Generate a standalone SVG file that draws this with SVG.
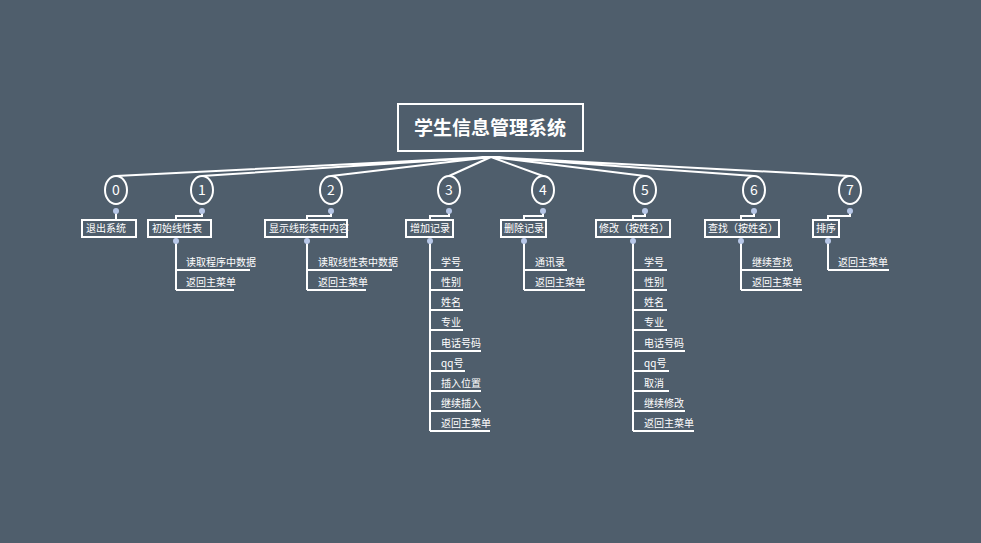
<svg xmlns="http://www.w3.org/2000/svg" width="981" height="543" viewBox="0 0 981 543">
<style>
.c{fill:none;stroke:#fff;stroke-width:2}
.b{fill:#4f5e6c;stroke:#fff;stroke-width:2}
.d{fill:#b6c6e6;stroke:none}
text{font-family:"Noto Sans CJK SC","Liberation Sans",sans-serif;fill:#fff}
.t{font-size:10px}
.n{font-size:14px;text-anchor:middle}
</style>
<rect width="981" height="543" fill="#4f5e6c"/>
<g id="connectors">
<path class="c" d="M491 157 L116 176 M491 157 L202 176 M491 157 L331 176 M491 157 L449 176 M491 157 L543 176 M491 157 L645 176 M491 157 L754 176 M491 157 L850 176"/>
<path class="c" d="M116 211 V220 M202 211 V216 H176 V220 M331 211 V216 H307 V220 M449 211 V216 H430 V220 M543 211 V216 H524 V220 M645 211 V216 H633 V220 M754 211 V216 H741 V220 M850 211 V216 H828 V220"/>
<path class="c" d="M176 241 V290 M176 270 H250 M176 290 H234"/>
<path class="c" d="M307 241 V290 M307 270 H392 M307 290 H366"/>
<path class="c" d="M430 241 V431 M430 270 H463 M430 290 H463 M430 310 H463 M430 330 H463 M430 351 H481 M430 371 H465 M430 391 H481 M430 411 H481 M430 431 H490"/>
<path class="c" d="M524 241 V290 M524 270 H567 M524 290 H585"/>
<path class="c" d="M633 241 V431 M633 270 H667 M633 290 H667 M633 310 H667 M633 330 H667 M633 351 H685 M633 371 H669 M633 391 H669 M633 411 H685 M633 431 H694"/>
<path class="c" d="M741 241 V290 M741 270 H793 M741 290 H802"/>
<path class="c" d="M828 241 V270 M828 270 H889"/>
</g>
<g id="root"><rect class="b" x="398" y="104" width="185" height="47"/><text x="490" y="135" text-anchor="middle" font-size="19" font-weight="bold">学生信息管理系统</text></g>
<g id="nums">
<g id="n0"><ellipse class="b" cx="116" cy="190" rx="11" ry="14"/><text class="n" x="116" y="195">0</text><circle class="d" cx="116" cy="211" r="3"/></g>
<g id="n1"><ellipse class="b" cx="202" cy="190" rx="11" ry="14"/><text class="n" x="202" y="195">1</text><circle class="d" cx="202" cy="211" r="3"/></g>
<g id="n2"><ellipse class="b" cx="331" cy="190" rx="11" ry="14"/><text class="n" x="331" y="195">2</text><circle class="d" cx="331" cy="211" r="3"/></g>
<g id="n3"><ellipse class="b" cx="449" cy="190" rx="11" ry="14"/><text class="n" x="449" y="195">3</text><circle class="d" cx="449" cy="211" r="3"/></g>
<g id="n4"><ellipse class="b" cx="543" cy="190" rx="11" ry="14"/><text class="n" x="543" y="195">4</text><circle class="d" cx="543" cy="211" r="3"/></g>
<g id="n5"><ellipse class="b" cx="645" cy="190" rx="11" ry="14"/><text class="n" x="645" y="195">5</text><circle class="d" cx="645" cy="211" r="3"/></g>
<g id="n6"><ellipse class="b" cx="754" cy="190" rx="11" ry="14"/><text class="n" x="754" y="195">6</text><circle class="d" cx="754" cy="211" r="3"/></g>
<g id="n7"><ellipse class="b" cx="850" cy="190" rx="11" ry="14"/><text class="n" x="850" y="195">7</text><circle class="d" cx="850" cy="211" r="3"/></g>
</g>
<g id="menu">
<g id="m0"><rect class="b" x="82" y="220" width="54" height="17"/><text class="t" x="86" y="232">退出系统</text></g>
<g id="m1"><rect class="b" x="148" y="220" width="63" height="17"/><text class="t" x="152" y="232">初始线性表</text><circle class="d" cx="176" cy="241" r="3"/></g>
<g id="m2"><rect class="b" x="265" y="220" width="82" height="17"/><text class="t" x="269" y="232">显示线形表中内容</text><circle class="d" cx="307" cy="241" r="3"/></g>
<g id="m3"><rect class="b" x="406" y="220" width="47" height="17"/><text class="t" x="410" y="232">增加记录</text><circle class="d" cx="430" cy="241" r="3"/></g>
<g id="m4"><rect class="b" x="501" y="220" width="45" height="17"/><text class="t" x="504" y="232">删除记录</text><circle class="d" cx="524" cy="241" r="3"/></g>
<g id="m5"><rect class="b" x="596" y="220" width="74" height="17"/><text class="t" x="599" y="232">修改（按姓名）</text><circle class="d" cx="633" cy="241" r="3"/></g>
<g id="m6"><rect class="b" x="705" y="220" width="74" height="17"/><text class="t" x="708" y="232">查找（按姓名）</text><circle class="d" cx="741" cy="241" r="3"/></g>
<g id="m7"><rect class="b" x="813" y="220" width="26" height="17"/><text class="t" x="816" y="232">排序</text><circle class="d" cx="828" cy="241" r="3"/></g>
</g>
<g id="leaves" class="t">
<text x="186" y="266">读取程序中数据</text><text x="186" y="286">返回主菜单</text>
<text x="318" y="266">读取线性表中数据</text><text x="318" y="286">返回主菜单</text>
<text x="441" y="266">学号</text><text x="441" y="286">性别</text><text x="441" y="306">姓名</text><text x="441" y="326">专业</text><text x="441" y="347">电话号码</text><text x="441" y="367">qq号</text><text x="441" y="387">插入位置</text><text x="441" y="407">继续插入</text><text x="441" y="427">返回主菜单</text>
<text x="535" y="266">通讯录</text><text x="535" y="286">返回主菜单</text>
<text x="644" y="266">学号</text><text x="644" y="286">性别</text><text x="644" y="306">姓名</text><text x="644" y="326">专业</text><text x="644" y="347">电话号码</text><text x="644" y="367">qq号</text><text x="644" y="387">取消</text><text x="644" y="407">继续修改</text><text x="644" y="427">返回主菜单</text>
<text x="752" y="266">继续查找</text><text x="752" y="286">返回主菜单</text>
<text x="838" y="266">返回主菜单</text>
</g>
</svg>
